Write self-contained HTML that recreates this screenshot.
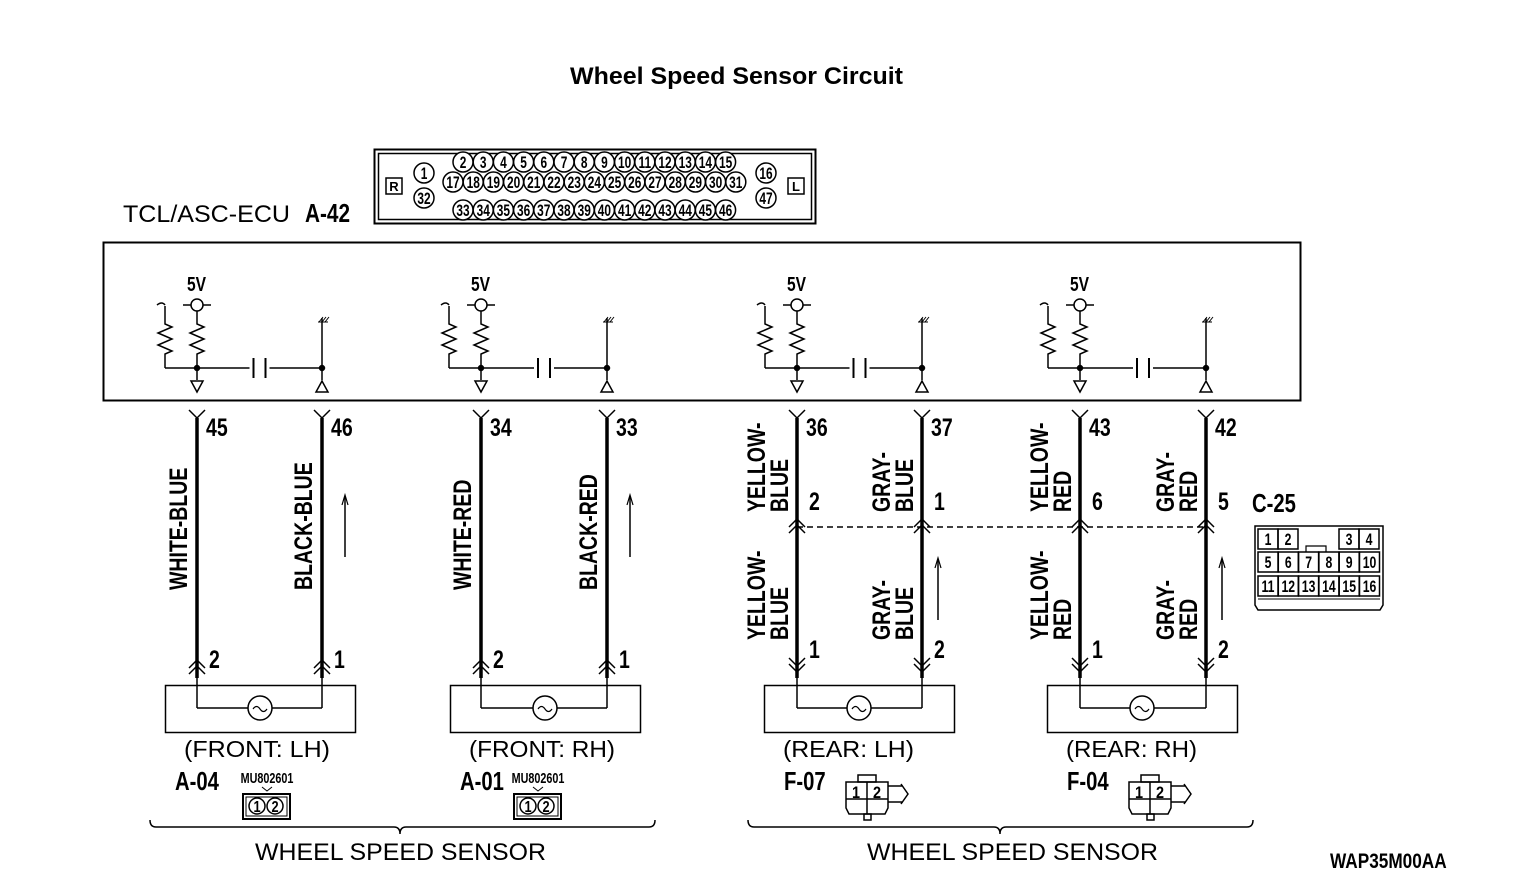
<!DOCTYPE html>
<html><head><meta charset="utf-8"><style>
html,body{margin:0;padding:0;background:#fff;}
svg{display:block;}
.b{font-family:"Liberation Sans",sans-serif;font-weight:bold;}
.n{font-family:"Liberation Sans",sans-serif;}
</style></head><body>
<svg id="s" width="1536" height="884" viewBox="0 0 1536 884" xmlns="http://www.w3.org/2000/svg">
<rect width="1536" height="884" fill="#fff"/>
<text x="570" y="84" class="n" font-weight="bold" font-size="24" textLength="333" lengthAdjust="spacingAndGlyphs">Wheel Speed Sensor Circuit</text>
<text x="123" y="222" class="n" font-size="24" textLength="167" lengthAdjust="spacingAndGlyphs">TCL/ASC-ECU</text>
<text transform="translate(305 222) scale(0.8 1)" class="b" font-size="26">A-42</text>
<rect x="374.5" y="149.5" width="441" height="74" fill="none" stroke="#000" stroke-width="2"/>
<rect x="378.5" y="153.5" width="433" height="66" fill="none" stroke="#000" stroke-width="1.5"/>
<rect x="386" y="178" width="16" height="16" fill="none" stroke="#000" stroke-width="1.5"/>
<text x="394" y="191" text-anchor="middle" class="b" font-size="13">R</text>
<rect x="788" y="178" width="16" height="16" fill="none" stroke="#000" stroke-width="1.5"/>
<text x="796" y="191" text-anchor="middle" class="b" font-size="13">L</text>
<rect x="103.5" y="242.5" width="1197" height="158" fill="none" stroke="#000" stroke-width="2"/>
<g id="g"></g>
<text transform="translate(1330 868) scale(0.82 1)" class="b" font-size="21">WAP35M00AA</text>
</svg>
<script>
const g=document.getElementById('g');let h='';
const L=(x1,y1,x2,y2,w=1.5,d='')=>h+=`<line x1="${x1}" y1="${y1}" x2="${x2}" y2="${y2}" stroke="#000" stroke-width="${w}" ${d}/>`;
const T=(x,y,t,s=20,a='start',c='b',ex='')=>h+=`<text x="${x}" y="${y}" font-size="${s}" text-anchor="${a}" class="${c}" ${ex}>${t}</text>`;
const N=(x,y,t,s=24,a='start',sx=0.78)=>h+=`<text transform="translate(${x} ${y}) scale(${sx} 1)" font-size="${s}" text-anchor="${a}" class="b">${t}</text>`;
const C=(x,y,r,f='none',w=1.5)=>h+=`<circle cx="${x}" cy="${y}" r="${r}" fill="${f}" stroke="#000" stroke-width="${w}"/>`;
const P=(d,w=1.5,f='none')=>h+=`<path d="${d}" fill="${f}" stroke="#000" stroke-width="${w}"/>`;
const pin=(x,y,n)=>{C(x,y,10,'#fff',1.5);N(x,y+6,n,17,'middle',0.7);};
for(let i=0;i<14;i++)pin(463+i*20.2,162,i+2);
for(let i=0;i<15;i++)pin(453+i*20.2,182,i+17);
for(let i=0;i<14;i++)pin(463+i*20.2,210,i+33);
pin(424,173,1);pin(424,198,32);pin(766,173,16);pin(766,198,47);
const circ=[[197,322,45,46],[481,607,34,33],[797,922,36,37],[1080,1206,43,42]];
const zig=(x,y1)=>{let d=`M${x} ${y1}`;let y=y1+6;d+=` L${x} ${y}`;for(let k=0;k<5;k++){d+=` L${x+(k%2?-7:7)} ${y+3} L${x} ${y+6}`;y+=6;}d+=` L${x} ${y+6}`;return d;};
circ.forEach(([a,b,pa,pb])=>{
 N(a-10,291,'5V',20);
 L(a-14,305,a+14,305);C(a,305,6,'#fff');
 L(a,311,a,318);P(zig(a,318));L(a,360,a,380);
 P(`M${a-40} ${305} q5 -4 8 0`);L(a-32,306,a-32,318);P(zig(a-32,318));L(a-32,360,a-32,368);L(a-32,368,b,368);
 h+=`<rect x="${(a+b)/2-10}" y="358" width="20" height="20" fill="#fff"/>`;
 L((a+b)/2-6,358,(a+b)/2-6,378,2);L((a+b)/2+6,358,(a+b)/2+6,378,2);
 C(a,368,3,'#000',0.5);C(b,368,3,'#000',0.5);
 P(`M${a-6} ${381} L${a+6} 381 L${a} 392 Z`);
 L(b,318,b,380);P(`M${b-6} 392 L${b+6} 392 L${b} 381 Z`);
 P(`M${b-3} 322 l4 -5 M${b} 322 l4 -5 M${b+3} 322 l4 -5 M${b-4} 322 h10`,1);
 [[a,pa],[b,pb]].forEach(([x,p])=>{L(x,418,x,678,3.5);P(`M${x-8} 410 L${x} 418 L${x+8} 410`,1.5);N(x+9,436,p,25);});
});
const chevU=(x,y)=>P(`M${x-8} ${y+8} L${x} ${y} L${x+8} ${y+8} M${x-8} ${y+14} L${x} ${y+6} L${x+8} ${y+14}`,1.5);
const chevD=(x,y)=>P(`M${x-8} ${y} L${x} ${y+8} L${x+8} ${y} M${x-8} ${y+6} L${x} ${y+14} L${x+8} ${y+6}`,1.5);
const sensor=(a,b,bx)=>{h+=`<rect x="${bx}.5" y="685.5" width="190" height="47" fill="none" stroke="#000" stroke-width="1.5"/>`;
 const cx=bx+95;L(a,672,a,708);L(b,672,b,708);L(a,708,cx-12,708);L(cx+12,708,b,708);C(cx,708,12,'#fff');P(`M${cx-7} 709 q3.5 -5 7 0 q3.5 5 7 0`,1.2);};
const rot=(x,y,t,s=25)=>h+=`<text transform="translate(${x} ${y}) rotate(-90) scale(0.78 1)" font-size="${s}" class="b">${t}</text>`;
[[197,322,165,'WHITE-BLUE','BLACK-BLUE','(FRONT: LH)','A-04',243],[481,607,450,'WHITE-RED','BLACK-RED','(FRONT: RH)','A-01',514]].forEach(([a,b,bx,l1,l2,nm,code,cx])=>{
 sensor(a,b,bx);chevU(a,660);chevU(b,660);
 N(a+12,668,'2',25);N(b+12,668,'1',25);
 rot(a-10,590,l1);rot(b-10,590,l2);
 L(b+23,557,b+23,497,1.5);P(`M${b+20} 505 L${b+23} 495 L${b+26} 505`,1.2);
 h+=`<text x="${bx+19}" y="757" font-size="23" class="n" textLength="146" lengthAdjust="spacingAndGlyphs">${nm}</text>`;
 N(bx+10,790,code,26);
 N(cx+24,783,'MU802601',15,'middle',0.72);P(`M${cx+19} 787 l5 4 l5 -4`,1);
 h+=`<rect x="${cx}" y="794" width="47" height="25" fill="none" stroke="#000" stroke-width="2"/>`;
 h+=`<rect x="${cx+3}" y="797" width="41" height="19" fill="none" stroke="#000" stroke-width="1"/>`;
 C(cx+14,806,8,'#fff',1.5);C(cx+32,806,8,'#fff',1.5);N(cx+14,812,'1',16,'middle',0.8);N(cx+32,812,'2',16,'middle',0.8);
});
L(797,527,1206,527,1.5,'stroke-dasharray="6 4"');
[[797,922,764,'YELLOW-','BLUE','GRAY-','BLUE','2','1','(REAR: LH)','F-07'],[1080,1206,1047,'YELLOW-','RED','GRAY-','RED','6','5','(REAR: RH)','F-04']].forEach(([a,b,bx,y1,y2,g1,g2,pa,pb,nm,code])=>{
 sensor(a,b,bx);chevU(a,519);chevU(b,519);chevD(a,658);chevD(b,658);
 N(a+12,510,pa,25);N(b+12,510,pb,25);N(a+12,658,'1',25);N(b+12,658,'2',25);
 rot(a-32,512,y1);rot(a-9,512,y2);rot(b-32,512,g1);rot(b-9,512,g2);
 rot(a-32,640,y1);rot(a-9,640,y2);rot(b-32,640,g1);rot(b-9,640,g2);
 L(b+16,620,b+16,560,1.5);P(`M${b+13} 568 L${b+16} 558 L${b+19} 568`,1.2);
 h+=`<text x="${bx+19}" y="757" font-size="23" class="n" textLength="131" lengthAdjust="spacingAndGlyphs">${nm}</text>`;
 N(bx+20,790,code,26);
 const x=bx+82;
 h+=`<rect x="${x+12}" y="775" width="18" height="7" fill="none" stroke="#000" stroke-width="1.5"/>`;
 P(`M${x} 782 h42 v26 l-3 6 h-36 l-3 -6 Z`,1.5);L(x,799,x+42,799);L(x+21,782,x+21,814);
 h+=`<rect x="${x+18}" y="814" width="7" height="6" fill="none" stroke="#000" stroke-width="1.5"/>`;
 N(x+10,798,'1',17,'middle',0.85);N(x+31,798,'2',17,'middle',0.85);
 P(`M${x+42} 786 h15 M${x+42} 802 h15 M${x+55} 784 l7 10 l-7 10`,1.5);
});
N(1252,512,'C-25',26);
P('M1255 526 h128 v79 l-3 5 h-122 l-3 -5 Z',1.5);
const cell=(x,y,w,t)=>{h+=`<rect x="${x}" y="${y}" width="${w}" height="20" fill="none" stroke="#000" stroke-width="1.5"/>`;N(x+w/2,y+16,t,17,'middle',0.72);};
cell(1258,529,20,'1');cell(1278,529,20,'2');cell(1339,529,20,'3');cell(1359,529,20,'4');
[5,6,7,8,9,10].forEach((n,i)=>cell(1258+i*20.3,552,20,n));
for(let i=0;i<6;i++)cell(1258+i*20.3,576,20,11+i);
P('M1306 552 v-6 h20 v6',1.2);L(1258,599,1380,599,1);
const brace=(x1,x2,c)=>P(`M${x1} 820 q0 7 6 7 H${c-6} q6 0 6 7 q0 -7 6 -7 H${x2-6} q6 0 6 -7`,1.5);
brace(150,655,400);brace(748,1253,1000);
h+=`<text x="255" y="860" font-size="24" class="n" textLength="291" lengthAdjust="spacingAndGlyphs">WHEEL SPEED SENSOR</text>`;
h+=`<text x="867" y="860" font-size="24" class="n" textLength="291" lengthAdjust="spacingAndGlyphs">WHEEL SPEED SENSOR</text>`;
g.innerHTML=h;
</script>
</body></html>
